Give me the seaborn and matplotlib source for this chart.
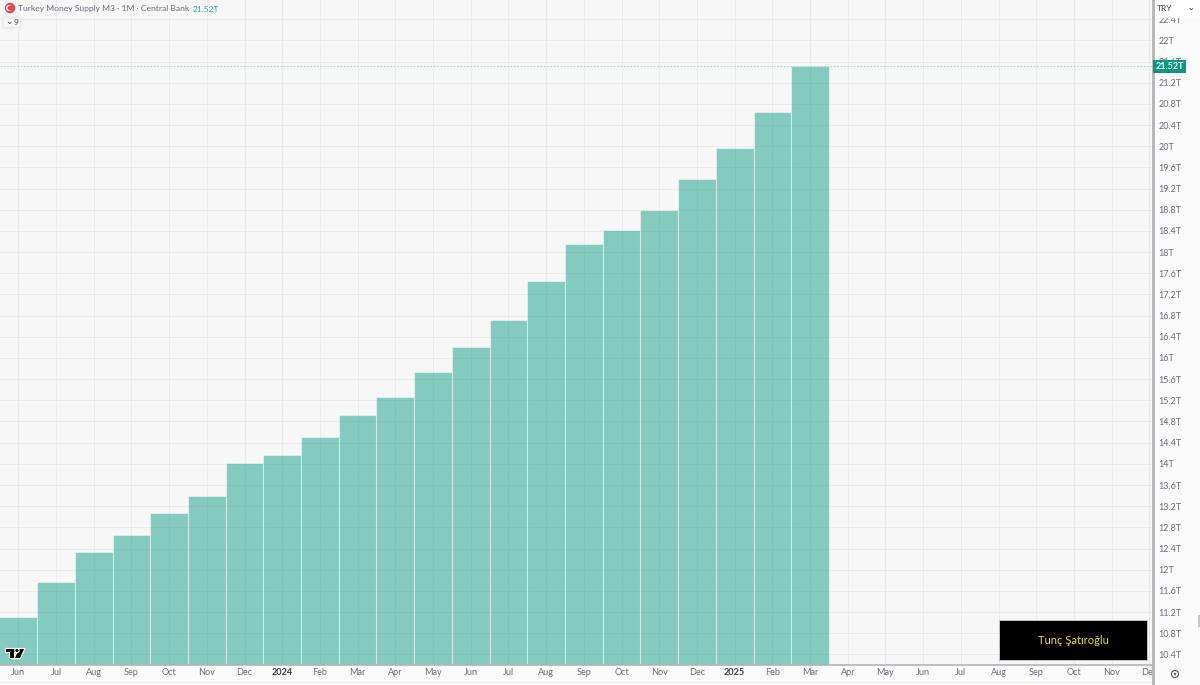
import numpy as np
import pandas as pd
import seaborn as sns
import matplotlib.pyplot as plt
from matplotlib.patches import Circle, Rectangle, FancyBboxPatch, Polygon
import matplotlib.patheffects as pe

# monthly values in trillion TRY, Jun 2023 - Mar 2025
m3_values = [11.10, 11.76, 12.33, 12.65, 13.08, 13.40, 14.01, 14.16, 14.50, 14.93, 15.27,
             15.73, 16.20, 16.71, 17.45, 18.15, 18.41, 18.79, 19.39, 19.96, 20.64, 21.52]
month_labels = ["Jun", "Jul", "Aug", "Sep", "Oct", "Nov", "Dec", "2024", "Feb", "Mar", "Apr",
                "May", "Jun", "Jul", "Aug", "Sep", "Oct", "Nov", "Dec", "2025", "Feb", "Mar",
                "Apr", "May", "Jun", "Jul", "Aug", "Sep", "Oct", "Nov", "Dec"]
price_ticks = [10.4, 10.8, 11.2, 11.6, 12, 12.4, 12.8, 13.2, 13.6, 14, 14.4, 14.8, 15.2, 15.6,
               16, 16.4, 16.8, 17.2, 17.6, 18, 18.4, 18.8, 19.2, 19.6, 20, 20.4, 20.8, 21.2,
               21.6, 22, 22.4]
price_labels = ["%gT" % t for t in price_ticks]
last_value = 21.52

W, H = 1200, 685
TEAL = "#089981"
GRID = "#ebebeb"
BORDER = "#b4b4b4"
TXT = "#6a6d78"

sns.set_theme(style="white")
plt.rcParams["font.family"] = ["Lato", "DejaVu Sans"]

df = pd.DataFrame({"idx": np.arange(len(m3_values)), "value": m3_values})

fig = plt.figure(figsize=(W / 100, H / 100), dpi=100, facecolor="#fbfbfb")

# y scale: 22T sits at y=40.4px, 52.93 px per trillion
px_per_t = 52.93
y22 = 40.4
y_bottom = 22 - (665 - y22) / px_per_t
y_top = 22 + y22 / px_per_t
ax = fig.add_axes([0, 20 / H, 1153 / W, 665 / H], facecolor="#f7f7f7")
sns.barplot(data=df, x="idx", y="value", native_scale=True, width=1, color=TEAL,
            saturation=1, alpha=0.48, edgecolor="white", linewidth=0.8, ax=ax)
ax.set_xlim(-0.485, 30.095)
ax.set_ylim(y_bottom, y_top)
ax.set_xlabel("")
ax.set_ylabel("")
ax.set_xticks(range(len(month_labels)))
ax.set_xticklabels(month_labels, fontsize=6.6, color=TXT)
for lab in ax.get_xticklabels():
    if lab.get_text() in ("2024", "2025"):
        lab.set_fontweight("bold")
        lab.set_color("#3c3f48")
ax.set_yticks(price_ticks)
ax.tick_params(axis="y", left=False, labelleft=False)
ax.tick_params(axis="x", bottom=False, length=0, pad=2.5)
ax.grid(True, color=GRID, linewidth=0.7)
ax.set_axisbelow(True)
ax.axhline(last_value, color="#a5dcd0", linewidth=0.8, linestyle=(0, (1.5, 1.5)), zorder=1)
for s in ["top", "left", "right"]:
    ax.spines[s].set_visible(False)
ax.spines["bottom"].set_color(BORDER)
ax.spines["bottom"].set_linewidth(1.2)

# price scale on the right, same scale but runs the whole figure height
side = fig.add_axes([1153 / W, 0, 47 / W, 1], facecolor="#fbfbfb", zorder=5)
side.set_xlim(0, 47)
side.set_ylim(22 - (H - y22) / px_per_t, y_top)
side.set_xticks([])
side.set_yticks(price_ticks)
side.set_yticklabels(price_labels, fontsize=6.5, color=TXT)
side.tick_params(axis="y", left=False, right=False, length=0, labelleft=False, labelright=True, pad=-30)
for s in ["top", "bottom", "right"]:
    side.spines[s].set_visible(False)
side.spines["left"].set_color(BORDER)
side.spines["left"].set_linewidth(2)


def px_rect(x, y, w, h, **kw):
    r = Rectangle((x / W, 1 - (y + h) / H), w / W, h / H, transform=fig.transFigure, **kw)
    fig.add_artist(r)
    return r


def px_text(x, y, s, **kw):
    return fig.text(x / W, 1 - y / H, s, **kw)


# last value tag and currency box
px_rect(1153, 60, 33, 13, facecolor=TEAL, edgecolor="none", zorder=10)
px_text(1169.5, 66.5, "21.52T", color="white", fontsize=6.6, fontweight="bold",
        ha="center", va="center", zorder=11)
px_rect(1155, 0, 45, 18, facecolor="white", edgecolor="none", zorder=10)
px_text(1157, 8.5, "TRY", color="#3c3f48", fontsize=6, ha="left", va="center", zorder=11)
px_text(1191, 8, "⌄", color="#3c3f48", fontsize=6, ha="center", va="center",
        family=["DejaVu Sans"], zorder=11)
fig.add_artist(Circle((1175, H - 674), 3.5, transform=None, fill=False,
                      edgecolor="#50535e", linewidth=0.8, zorder=11))
fig.add_artist(Circle((1175, H - 674), 1.2, transform=None, facecolor="#50535e",
                      edgecolor="none", zorder=11))
px_rect(1198, 615, 2, 12, facecolor="#c8c8c8", edgecolor="none", zorder=11)

# bottom strip lower edge
px_rect(0, 682, 1153, 1, facecolor="#ececec", edgecolor="none", zorder=4)

# title row
fig.add_artist(Circle((10, H - 8), 5.2, transform=None, facecolor="#e8414a", edgecolor="none", zorder=10))
fig.add_artist(Circle((9.2, H - 8), 3.1, transform=None, facecolor="white", edgecolor="none", zorder=11))
fig.add_artist(Circle((10.2, H - 8), 2.4, transform=None, facecolor="#e8414a", edgecolor="none", zorder=12))
px_text(18, 9, "Turkey Money Supply M3 · 1M · Central Bank", color="#6a6d78", fontsize=6.1,
        ha="left", va="center", zorder=10)
px_text(193, 9, "21.52T", color="#22ab94", fontsize=6, ha="left", va="center", zorder=10)

# collapse button
fig.add_artist(FancyBboxPatch((3, H - 28), 18, 11, boxstyle="round,pad=0,rounding_size=2",
                              transform=None, facecolor="#f7f7f7", edgecolor="#e6e6e6",
                              linewidth=0.8, zorder=10))
px_text(9, 22, "⌄", color="#3c3f48", fontsize=6.5, ha="center", va="center",
        family=["DejaVu Sans"], zorder=11)
px_text(16, 22.5, "9", color="#3c3f48", fontsize=6, ha="center", va="center", zorder=11)

# logo drawn from three small shapes
logo_outline = [pe.withStroke(linewidth=1.6, foreground="white")]
logo_parts = [
    [(6, 649), (15, 649), (15, 652), (14, 652), (14, 658), (10, 658), (10, 652), (6, 652)],
    [(19, 649), (24, 649), (20, 658), (15, 658)],
]
for pts in logo_parts:
    p = Polygon([(x, H - y) for x, y in pts], closed=True, transform=None, facecolor="black",
                edgecolor="none", zorder=10)
    p.set_path_effects(logo_outline)
    fig.add_artist(p)
dot = Circle((17, H - 650.5), 1.6, transform=None, facecolor="black", edgecolor="none", zorder=10)
dot.set_path_effects(logo_outline)
fig.add_artist(dot)

# watermark box
px_rect(998.5, 620, 148.5, 40, facecolor="black", edgecolor="#d0d0d0", linewidth=0.6, zorder=10)
px_text(1073, 640, "Tunç Şatıroğlu", color="#f5e11e", fontsize=8, ha="center", va="center", zorder=11)

fig.savefig("out.png", dpi=100, facecolor=fig.get_facecolor())
